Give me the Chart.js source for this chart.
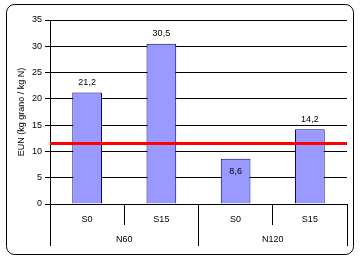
<!DOCTYPE html>
<html>
<head>
<meta charset="utf-8">
<script src="https://cdn.jsdelivr.net/npm/chart.js@4"></script>
<style>
  html, body { margin: 0; padding: 0; background: #fff; }
  #wrap { width: 360px; height: 260px; }
</style>
</head>
<body>
<div id="wrap"><canvas id="eun"></canvas></div>
<script>
// data
var categories = ['S0', 'S15', 'S0', 'S15'];
var groups = ['N60', 'N120'];
var eunValues = [21.2, 30.5, 8.6, 14.2];
var refLine = 11.5;
var yTicks = [0, 5, 10, 15, 20, 25, 30, 35];

Chart.defaults.font.family = '"Liberation Sans", Arial, sans-serif';
Chart.defaults.font.size = 9;
Chart.defaults.color = '#000';

// rounded frame around the whole chart
var framePlugin = {
  id: 'frame',
  beforeDraw: function (chart) {
    var c = chart.ctx;
    c.save();
    c.fillStyle = '#fff';
    c.fillRect(0, 0, chart.width, chart.height);
    c.strokeStyle = '#000';
    c.lineWidth = 1;
    c.beginPath();
    c.roundRect(6.5, 4.5, 347, 250, 8);
    c.stroke();
    c.restore();
  }
};

// red reference line + value labels
var markPlugin = {
  id: 'marks',
  afterDatasetsDraw: function (chart) {
    var c = chart.ctx;
    var y = chart.scales.y;
    var area = chart.chartArea;
    var ry = y.getPixelForValue(refLine);
    c.save();
    c.strokeStyle = '#ff0000';
    c.lineWidth = 3;
    c.beginPath();
    c.moveTo(area.left, ry);
    c.lineTo(area.right, ry);
    c.stroke();

    c.fillStyle = '#000';
    c.font = '9px "Liberation Sans", Arial, sans-serif';
    c.textAlign = 'center';
    c.textBaseline = 'middle';
    chart.getDatasetMeta(0).data.forEach(function (bar, i) {
      var ly = bar.y - 10;
      if (Math.abs(ly - ry) < 10) ly = bar.y + 13;
      c.fillText(String(eunValues[i]).replace('.', ','), bar.x, ly);
    });
    c.restore();
  }
};

new Chart(document.getElementById('eun'), {
  type: 'bar',
  data: {
    labels: categories,
    datasets: [{
      data: eunValues,
      backgroundColor: '#9999ff',
      borderColor: '#000080',
      borderWidth: 1,
      categoryPercentage: 1,
      barPercentage: 0.4
    }]
  },
  options: {
    responsive: true,
    maintainAspectRatio: false,
    animation: false,
    layout: { padding: { left: 10, right: 13, top: 20, bottom: 14 } },
    plugins: { legend: { display: false }, tooltip: { enabled: false } },
    scales: {
      y: {
        min: 0,
        max: 35,
        afterBuildTicks: function (s) { s.ticks = yTicks.map(function (v) { return { value: v }; }); },
        afterFit: function (s) { s.width = 40; },
        grid: { color: '#000', tickLength: 5, drawTicks: true },
        border: { color: '#000' },
        ticks: { padding: 3 },
        title: { display: true, text: 'EUN (kg grano / kg N)', padding: { top: 6, bottom: 0 } }
      },
      x: {
        afterFit: function (s) { s.height = 21; },
        grid: { offset: true, drawOnChartArea: false, color: '#000', tickLength: 21 },
        border: { color: '#000' },
        ticks: { padding: -11, maxRotation: 0 }
      },
      x2: {
        type: 'category',
        position: 'bottom',
        labels: groups,
        afterFit: function (s) { s.height = 21; },
        grid: { offset: true, drawOnChartArea: false, color: '#000', tickLength: 21 },
        border: { display: false },
        ticks: { padding: -12, maxRotation: 0 }
      }
    }
  },
  plugins: [framePlugin, markPlugin]
});
</script>
</body>
</html>
